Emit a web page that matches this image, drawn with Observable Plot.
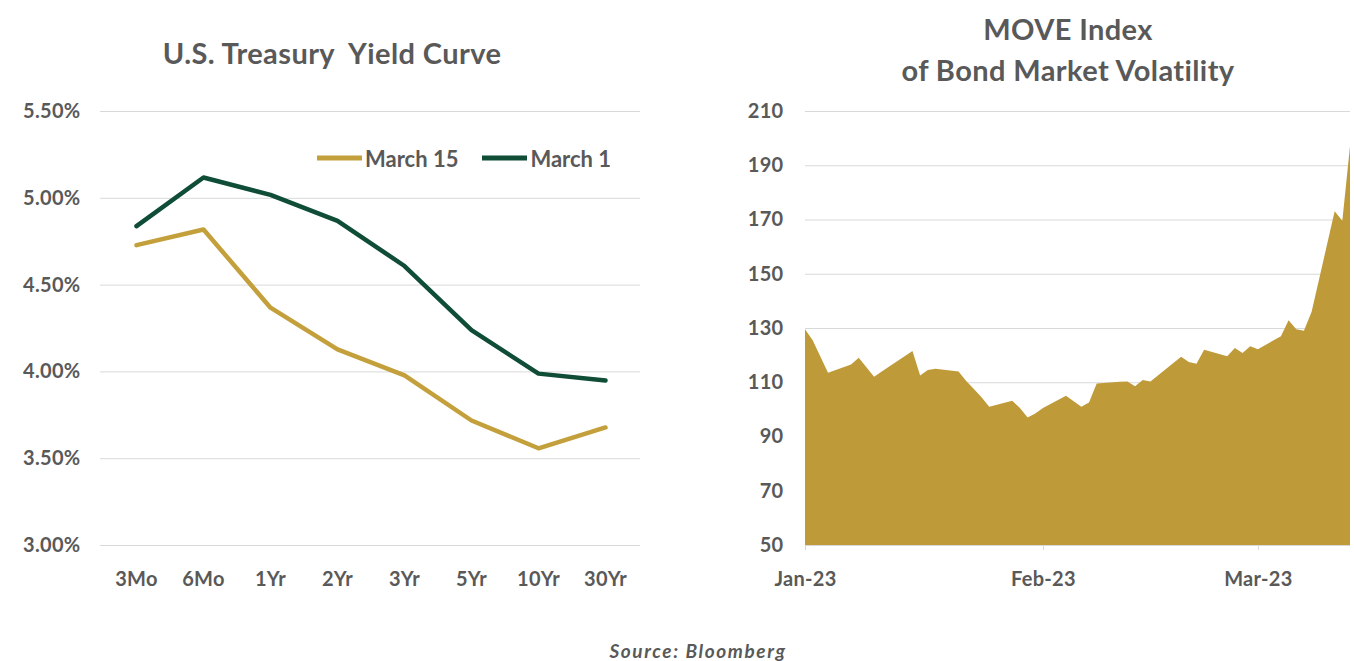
<!DOCTYPE html>
<html><head><meta charset="utf-8">
<script src="https://cdn.jsdelivr.net/npm/d3@7"></script>
<script src="https://cdn.jsdelivr.net/npm/@observablehq/plot@0.6"></script>
<style>
body{margin:0;background:#fff;font-family:Lato,"Open Sans",sans-serif;}
#wrap{position:relative;width:1354px;height:661px;overflow:hidden;background:#fff;}
.t{position:absolute;color:#595959;font-weight:700;text-align:center;white-space:nowrap;transform:translate(-50%,-50%);line-height:1;}
#wrap svg{position:absolute;top:0;}
#legend{position:absolute;left:317px;top:158px;transform:translateY(-50%);display:flex;align-items:center;color:#595959;font-weight:700;font-size:22px;}
.sw{display:inline-block;width:45px;height:4.5px;margin-right:3px;}
</style></head><body>
<div id="wrap">
  <div class="t" style="left:332px;top:52px;font-size:29px;letter-spacing:0.4px;">U.S. Treasury&nbsp; Yield Curve</div>
  <div class="t" style="left:1068px;top:49px;font-size:29px;line-height:41px;letter-spacing:0.4px;">MOVE Index<br>of Bond Market Volatility</div>
  <div class="t" style="left:698px;top:650px;font-size:19px;font-style:italic;letter-spacing:1.6px;">Source: Bloomberg</div>
</div>
<script>
const tenors = ["3Mo","6Mo","1Yr","2Yr","3Yr","5Yr","10Yr","30Yr"];
const march15 = [4.73,4.82,4.37,4.13,3.98,3.72,3.56,3.68];
const march1 = [4.84,5.12,5.02,4.87,4.61,4.24,3.99,3.95];
const seriesNames = ["March 15","March 1"];
const yieldTicks = [3.0,3.5,4.0,4.5,5.0,5.5];

const moveDates = ["2023-01-03","2023-01-04","2023-01-05","2023-01-06","2023-01-09","2023-01-10","2023-01-11","2023-01-12","2023-01-13",
"2023-01-17","2023-01-18","2023-01-19","2023-01-20","2023-01-23","2023-01-24","2023-01-25","2023-01-26","2023-01-27","2023-01-30","2023-01-31",
"2023-02-01","2023-02-02","2023-02-03","2023-02-06","2023-02-07","2023-02-08","2023-02-09","2023-02-10","2023-02-13","2023-02-14","2023-02-15","2023-02-16","2023-02-17",
"2023-02-21","2023-02-22","2023-02-23","2023-02-24","2023-02-27","2023-02-28",
"2023-03-01","2023-03-02","2023-03-03","2023-03-06","2023-03-07","2023-03-08","2023-03-09","2023-03-10","2023-03-13","2023-03-14","2023-03-15"];
const moveValues = [129.5,125.5,119.5,113.5,116.5,119,115.5,112,114,
121.5,112.5,114.5,115,114,110.5,107.5,104.5,101,103.2,100.5,
97,98.5,100.5,105,103,101,102.5,109.5,110.2,110.3,108.5,110.8,110.3,
119.4,117.5,116.8,122,119.6,122.6,
120.8,123.3,122.2,127,132.9,129.5,129,136,173,169.5,197];
const moveTickDates = ["2023-01-03","2023-02-03","2023-03-03"];
const moveTicks = [50,70,90,110,130,150,170,190,210];

const gold = "#C4A03C", green = "#0F4D36", areaGold = "#BF9A38", grid = "#D9D9D9", txt = "#595959";
const colors = [gold, green];
const style = {fontSize:"20px", fontFamily:"Lato, 'Open Sans', sans-serif", fontWeight:700, color:txt, background:"transparent", letterSpacing:"0.3px"};

const yieldRows = [];
tenors.forEach((t,i)=>{
  yieldRows.push({tenor:t, y:march15[i], s:seriesNames[0]});
  yieldRows.push({tenor:t, y:march1[i], s:seriesNames[1]});
});

const left = Plot.plot({
  width:660, height:600, marginLeft:100, marginRight:20, marginTop:111, marginBottom:55,
  style,
  x:{type:"point", domain:tenors, padding:0.5},
  y:{domain:[3,5.5]},
  color:{domain:seriesNames, range:colors},
  marks:[
    Plot.gridY(yieldTicks,{stroke:grid, strokeOpacity:1}),
    Plot.axisY(yieldTicks,{tickSize:0, tickPadding:20, tickFormat:d=>d.toFixed(2)+"%", label:null}),
    Plot.axisX({tickSize:0, tickPadding:26, label:null}),
    Plot.line(yieldRows,{x:"tenor", y:"y", z:"s", stroke:"s", strokeWidth:4.5, strokeLinejoin:"round", strokeLinecap:"round"})
  ]
});
left.style.left = "0px";

const moveRows = moveDates.map((d,i)=>({date:new Date(d+"T00:00:00Z"), v:moveValues[i]}));
const right = Plot.plot({
  width:674, height:600, marginLeft:125, marginRight:4, marginTop:111, marginBottom:55,
  style,
  x:{type:"utc", domain:[new Date("2023-01-03T00:00:00Z"), new Date("2023-03-15T00:00:00Z")]},
  y:{domain:[50,210]},
  marks:[
    Plot.gridY(moveTicks,{stroke:grid, strokeOpacity:1}),
    Plot.areaY(moveRows,{x:"date", y1:()=>50, y2:"v", fill:areaGold}),
    Plot.axisY(moveTicks,{tickSize:0, tickPadding:22, label:null}),
    Plot.axisX(moveTickDates.map(d=>new Date(d+"T00:00:00Z")),{tickSize:5, tickPadding:21, stroke:grid, fill:txt, tickFormat:d3.utcFormat("%b-%y"), label:null})
  ]
});
right.style.left = "680px";

const wrap = document.getElementById("wrap");
wrap.appendChild(left);
wrap.appendChild(right);

const legend = document.createElement("div");
legend.id = "legend";
seriesNames.forEach((n,i)=>{
  const item = document.createElement("span");
  item.style.display="flex"; item.style.alignItems="center"; item.style.marginRight = i===0 ? "24px" : "0";
  const sw = document.createElement("span"); sw.className="sw"; sw.style.background=colors[i];
  const tx = document.createElement("span"); tx.textContent = n;
  item.appendChild(sw); item.appendChild(tx);
  legend.appendChild(item);
});
wrap.appendChild(legend);
</script>
</body></html>
